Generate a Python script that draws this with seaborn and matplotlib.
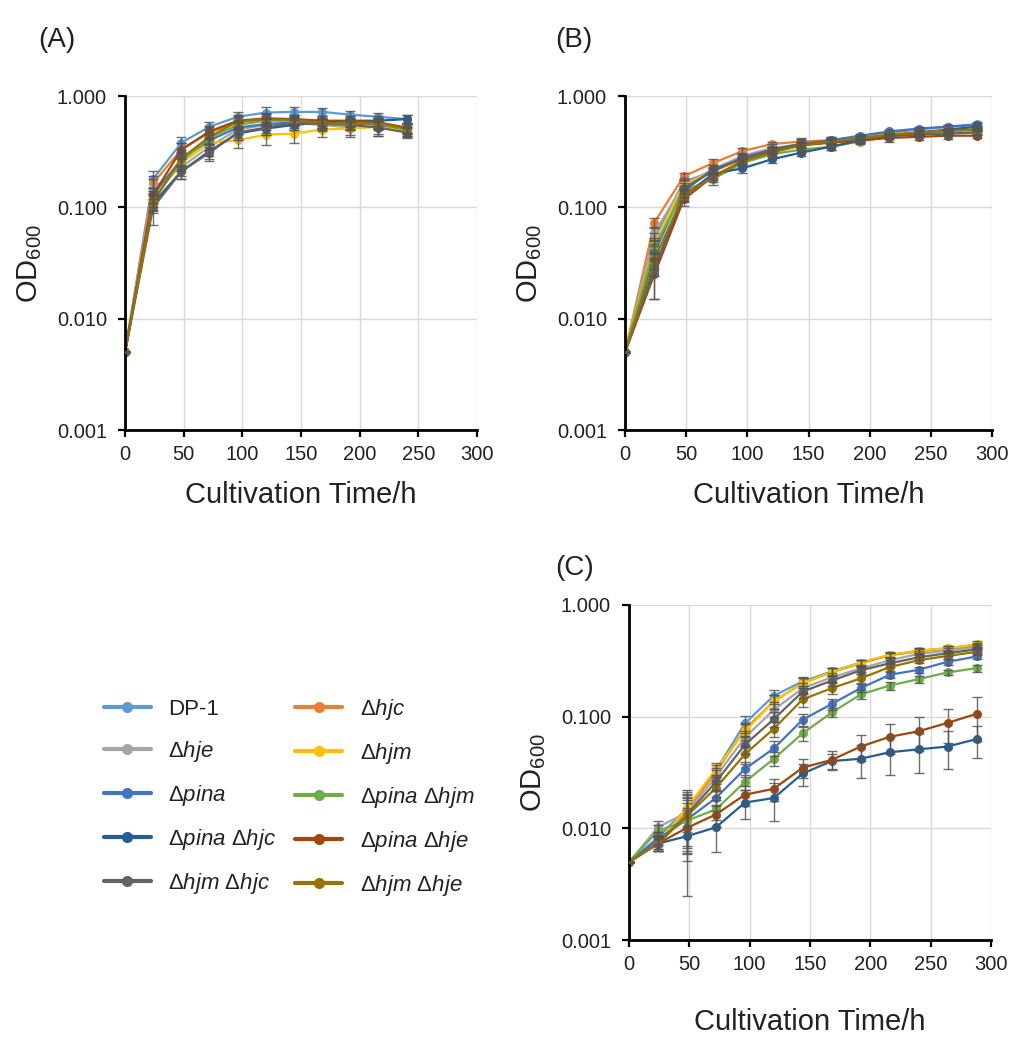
import numpy as np
import pandas as pd
import matplotlib
matplotlib.use("Agg")
import matplotlib.pyplot as plt
from matplotlib.lines import Line2D
import seaborn as sns

# ---- data ----
strains = ["DP-1", "hjc", "hje", "hjm", "pina", "pina_hjm", "pina_hjc", "pina_hje", "hjm_hjc", "hjm_hje"]
labels = {
    "DP-1": "DP-1",
    "hjc": "Δ$\\mathit{hjc}$",
    "hje": "Δ$\\mathit{hje}$",
    "hjm": "Δ$\\mathit{hjm}$",
    "pina": "Δ$\\mathit{pina}$",
    "pina_hjm": "Δ$\\mathit{pina}$ Δ$\\mathit{hjm}$",
    "pina_hjc": "Δ$\\mathit{pina}$ Δ$\\mathit{hjc}$",
    "pina_hje": "Δ$\\mathit{pina}$ Δ$\\mathit{hje}$",
    "hjm_hjc": "Δ$\\mathit{hjm}$ Δ$\\mathit{hjc}$",
    "hjm_hje": "Δ$\\mathit{hjm}$ Δ$\\mathit{hje}$",
}
colors = {
    "DP-1": "#5B9BD5", "hjc": "#ED7D31", "hje": "#A5A5A5", "hjm": "#FFC000",
    "pina": "#4472C4", "pina_hjm": "#70AD47", "pina_hjc": "#255E91",
    "pina_hje": "#9E480E", "hjm_hjc": "#636363", "hjm_hje": "#997300",
}

time_a = [0, 24, 48, 72, 96, 120, 144, 168, 192, 216, 240]
time_bc = [0, 24, 48, 72, 96, 120, 144, 168, 192, 216, 240, 264, 288]

od_a = {
    "DP-1":     [0.005, 0.180, 0.38, 0.53, 0.65, 0.71, 0.72, 0.72, 0.68, 0.65, 0.62],
    "hjc":      [0.005, 0.165, 0.33, 0.47, 0.58, 0.62, 0.61, 0.57, 0.58, 0.56, 0.52],
    "hje":      [0.005, 0.148, 0.23, 0.35, 0.50, 0.55, 0.57, 0.55, 0.52, 0.53, 0.50],
    "hjm":      [0.005, 0.120, 0.25, 0.38, 0.40, 0.45, 0.46, 0.50, 0.51, 0.53, 0.48],
    "pina":     [0.005, 0.130, 0.27, 0.40, 0.52, 0.56, 0.58, 0.60, 0.57, 0.55, 0.51],
    "pina_hjm": [0.005, 0.115, 0.26, 0.42, 0.55, 0.60, 0.60, 0.58, 0.56, 0.57, 0.49],
    "pina_hjc": [0.005, 0.109, 0.21, 0.32, 0.46, 0.51, 0.55, 0.58, 0.60, 0.60, 0.62],
    "pina_hje": [0.005, 0.129, 0.33, 0.48, 0.60, 0.63, 0.62, 0.60, 0.60, 0.58, 0.52],
    "hjm_hjc":  [0.005, 0.100, 0.21, 0.31, 0.47, 0.52, 0.57, 0.56, 0.55, 0.52, 0.47],
    "hjm_hje":  [0.005, 0.112, 0.275, 0.43, 0.59, 0.62, 0.61, 0.57, 0.56, 0.57, 0.51],
}
sd_a = {
    "DP-1":     [0, 0.030, 0.05, 0.06, 0.07, 0.08, 0.08, 0.06, 0.05, 0.05, 0.05],
    "hjc":      [0, 0.025, 0.05, 0.06, 0.07, 0.07, 0.06, 0.05, 0.05, 0.05, 0.05],
    "hje":      [0, 0.030, 0.04, 0.06, 0.08, 0.08, 0.08, 0.07, 0.07, 0.09, 0.06],
    "hjm":      [0, 0.020, 0.04, 0.05, 0.06, 0.09, 0.08, 0.07, 0.08, 0.09, 0.05],
    "pina":     [0, 0.020, 0.04, 0.05, 0.06, 0.06, 0.06, 0.06, 0.06, 0.06, 0.05],
    "pina_hjm": [0, 0.020, 0.04, 0.05, 0.06, 0.06, 0.06, 0.06, 0.06, 0.06, 0.05],
    "pina_hjc": [0, 0.020, 0.03, 0.05, 0.06, 0.06, 0.06, 0.06, 0.06, 0.06, 0.06],
    "pina_hje": [0, 0.020, 0.05, 0.06, 0.07, 0.07, 0.06, 0.06, 0.06, 0.06, 0.05],
    "hjm_hjc":  [0, 0.030, 0.03, 0.05, 0.07, 0.07, 0.07, 0.06, 0.06, 0.06, 0.05],
    "hjm_hje":  [0, 0.020, 0.04, 0.06, 0.07, 0.07, 0.06, 0.06, 0.06, 0.06, 0.05],
}

od_b = {
    "DP-1":     [0.005, 0.053, 0.170, 0.21, 0.28, 0.33, 0.37, 0.40, 0.43, 0.47, 0.50, 0.53, 0.56],
    "hjc":      [0.005, 0.073, 0.190, 0.25, 0.32, 0.37, 0.39, 0.40, 0.42, 0.45, 0.46, 0.47, 0.47],
    "hje":      [0.005, 0.059, 0.160, 0.22, 0.29, 0.34, 0.37, 0.39, 0.42, 0.45, 0.47, 0.49, 0.50],
    "hjm":      [0.005, 0.047, 0.160, 0.21, 0.27, 0.33, 0.37, 0.39, 0.42, 0.45, 0.47, 0.49, 0.51],
    "pina":     [0.005, 0.039, 0.150, 0.21, 0.28, 0.33, 0.37, 0.40, 0.44, 0.48, 0.51, 0.53, 0.55],
    "pina_hjm": [0.005, 0.044, 0.140, 0.18, 0.25, 0.30, 0.33, 0.35, 0.39, 0.43, 0.46, 0.48, 0.50],
    "pina_hjc": [0.005, 0.029, 0.126, 0.20, 0.224, 0.27, 0.31, 0.35, 0.40, 0.44, 0.47, 0.50, 0.53],
    "pina_hje": [0.005, 0.025, 0.118, 0.19, 0.26, 0.32, 0.36, 0.38, 0.40, 0.42, 0.43, 0.44, 0.44],
    "hjm_hjc":  [0.005, 0.027, 0.140, 0.22, 0.27, 0.33, 0.37, 0.39, 0.41, 0.44, 0.45, 0.46, 0.47],
    "hjm_hje":  [0.005, 0.034, 0.130, 0.185, 0.26, 0.31, 0.36, 0.39, 0.42, 0.45, 0.47, 0.49, 0.50],
}
sd_b = {
    "DP-1":     [0, 0.006, 0.015, 0.015, 0.02, 0.02, 0.02, 0.02, 0.02, 0.02, 0.02, 0.02, 0.02],
    "hjc":      [0, 0.008, 0.015, 0.020, 0.02, 0.02, 0.03, 0.03, 0.02, 0.02, 0.02, 0.02, 0.02],
    "hje":      [0, 0.008, 0.015, 0.020, 0.02, 0.03, 0.04, 0.04, 0.03, 0.02, 0.02, 0.02, 0.02],
    "hjm":      [0, 0.006, 0.015, 0.015, 0.02, 0.02, 0.02, 0.02, 0.02, 0.02, 0.02, 0.02, 0.02],
    "pina":     [0, 0.006, 0.015, 0.015, 0.02, 0.02, 0.02, 0.02, 0.02, 0.02, 0.02, 0.02, 0.02],
    "pina_hjm": [0, 0.006, 0.015, 0.020, 0.02, 0.02, 0.02, 0.02, 0.02, 0.02, 0.02, 0.02, 0.02],
    "pina_hjc": [0, 0.005, 0.015, 0.015, 0.02, 0.02, 0.02, 0.02, 0.02, 0.02, 0.02, 0.02, 0.02],
    "pina_hje": [0, 0.010, 0.015, 0.015, 0.02, 0.02, 0.02, 0.02, 0.02, 0.03, 0.03, 0.03, 0.02],
    "hjm_hjc":  [0, 0.012, 0.015, 0.020, 0.02, 0.02, 0.03, 0.03, 0.02, 0.02, 0.02, 0.02, 0.02],
    "hjm_hje":  [0, 0.006, 0.015, 0.015, 0.02, 0.02, 0.02, 0.02, 0.02, 0.02, 0.02, 0.02, 0.02],
}

od_c = {
    "DP-1":     [0.005, 0.0083, 0.0150, 0.0330, 0.087, 0.154, 0.207, 0.254, 0.305, 0.355, 0.385, 0.405, 0.430],
    "hjc":      [0.005, 0.0075, 0.0145, 0.0320, 0.077, 0.137, 0.200, 0.250, 0.300, 0.355, 0.390, 0.410, 0.440],
    "hje":      [0.005, 0.0102, 0.0139, 0.0290, 0.065, 0.115, 0.180, 0.225, 0.270, 0.320, 0.365, 0.390, 0.415],
    "hjm":      [0.005, 0.0073, 0.0153, 0.0337, 0.074, 0.137, 0.200, 0.250, 0.305, 0.358, 0.390, 0.410, 0.445],
    "pina":     [0.005, 0.0080, 0.0120, 0.0187, 0.034, 0.052, 0.094, 0.130, 0.180, 0.237, 0.263, 0.310, 0.346],
    "pina_hjm": [0.005, 0.0095, 0.0117, 0.0148, 0.026, 0.042, 0.071, 0.109, 0.158, 0.190, 0.217, 0.249, 0.272],
    "pina_hjc": [0.005, 0.0073, 0.0085, 0.0102, 0.017, 0.0187, 0.031, 0.040, 0.042, 0.048, 0.051, 0.054, 0.063],
    "pina_hje": [0.005, 0.0073, 0.0101, 0.0133, 0.020, 0.0226, 0.035, 0.041, 0.054, 0.066, 0.074, 0.088, 0.106],
    "hjm_hjc":  [0.005, 0.0073, 0.0133, 0.0260, 0.056, 0.095, 0.168, 0.210, 0.260, 0.300, 0.340, 0.370, 0.400],
    "hjm_hje":  [0.005, 0.0073, 0.0129, 0.0230, 0.046, 0.078, 0.143, 0.180, 0.220, 0.278, 0.320, 0.350, 0.380],
}
sd_c = {
    "DP-1":     [0, 0.0010, 0.0050, 0.004, 0.015, 0.020, 0.020, 0.020, 0.020, 0.020, 0.020, 0.020, 0.020],
    "hjc":      [0, 0.0010, 0.0040, 0.003, 0.010, 0.020, 0.020, 0.020, 0.020, 0.020, 0.020, 0.020, 0.020],
    "hje":      [0, 0.0015, 0.0080, 0.004, 0.010, 0.015, 0.020, 0.020, 0.020, 0.020, 0.020, 0.020, 0.020],
    "hjm":      [0, 0.0010, 0.0060, 0.005, 0.012, 0.020, 0.020, 0.020, 0.020, 0.020, 0.020, 0.020, 0.030],
    "pina":     [0, 0.0010, 0.0060, 0.003, 0.005, 0.008, 0.012, 0.015, 0.015, 0.015, 0.015, 0.020, 0.020],
    "pina_hjm": [0, 0.0012, 0.0050, 0.003, 0.004, 0.006, 0.010, 0.010, 0.015, 0.015, 0.015, 0.015, 0.020],
    "pina_hjc": [0, 0.0010, 0.0060, 0.004, 0.005, 0.007, 0.007, 0.006, 0.014, 0.018, 0.020, 0.020, 0.020],
    "pina_hje": [0, 0.0008, 0.0050, 0.003, 0.004, 0.005, 0.007, 0.008, 0.014, 0.020, 0.025, 0.030, 0.045],
    "hjm_hjc":  [0, 0.0010, 0.0070, 0.004, 0.010, 0.015, 0.020, 0.020, 0.020, 0.020, 0.020, 0.020, 0.020],
    "hjm_hje":  [0, 0.0010, 0.0060, 0.004, 0.008, 0.012, 0.020, 0.020, 0.020, 0.020, 0.020, 0.020, 0.020],
}

# ---- style ----
sns.set_theme(style="white")
plt.rcParams["font.family"] = ["Liberation Sans", "DejaVu Sans"]
plt.rcParams["mathtext.fontset"] = "custom"
plt.rcParams["mathtext.rm"] = "Liberation Sans"
plt.rcParams["mathtext.it"] = "Liberation Sans:italic"
plt.rcParams["mathtext.default"] = "regular"

W, H = 1009, 1041
fig = plt.figure(figsize=(W / 100, H / 100), dpi=100)


def px_rect(left, right, top, bottom):
    return [left / W, 1 - bottom / H, (right - left) / W, (bottom - top) / H]


def draw_panel(ax, times, od, sd, xlabelpad):
    rows = []
    for s in strains:
        for t, v in zip(times, od[s]):
            rows.append((s, t, v))
    df = pd.DataFrame(rows, columns=["strain", "time", "od"])
    for s in strains:
        ax.errorbar(times, od[s], yerr=sd[s], fmt="none", ecolor="#555555",
                    elinewidth=1.0, capsize=3.5, capthick=1.0, alpha=0.85, zorder=3)
    sns.lineplot(data=df, x="time", y="od", hue="strain", hue_order=strains,
                 palette=colors, marker="o", markersize=6.5, markeredgewidth=0,
                 linewidth=1.6, errorbar=None, legend=False, ax=ax, zorder=2)
    ax.set_yscale("log")
    ax.set_ylim(0.001, 1.0)
    ax.set_xlim(0, 300)
    ax.set_xticks(range(0, 301, 50))
    ax.set_yticks([0.001, 0.01, 0.1, 1.0])
    ax.set_yticklabels(["0.001", "0.010", "0.100", "1.000"])
    ax.yaxis.set_minor_locator(matplotlib.ticker.NullLocator())
    ax.grid(True, color="#d9d9d9", linewidth=1.0)
    ax.set_axisbelow(True)
    for side in ["top", "right"]:
        ax.spines[side].set_visible(False)
    for side in ["left", "bottom"]:
        ax.spines[side].set_color("black")
        ax.spines[side].set_linewidth(2.0)
    ax.tick_params(axis="both", which="major", labelsize=14.5, colors="black",
                   direction="out", length=5, width=1.6, left=True, bottom=True,
                   labelcolor="#222222")
    ax.tick_params(axis="y", pad=8)
    ax.tick_params(axis="x", pad=6)
    ax.set_xlabel("Cultivation Time/h", fontsize=21, labelpad=xlabelpad, color="#222222")
    ax.set_ylabel("OD$_{600}$", fontsize=21, labelpad=9, color="#222222")


ax_a = fig.add_axes(px_rect(125, 477, 96, 430))
ax_b = fig.add_axes(px_rect(625, 992, 96, 430))
ax_c = fig.add_axes(px_rect(629, 991, 605, 940))

draw_panel(ax_a, time_a, od_a, sd_a, 12)
draw_panel(ax_b, time_bc, od_b, sd_b, 12)
draw_panel(ax_c, time_bc, od_c, sd_c, 24)

for txt, x, y in [("(A)", 38, 40), ("(B)", 555, 40), ("(C)", 555, 568)]:
    fig.text(x / W, 1 - y / H, txt, fontsize=20, va="center", ha="left", color="#222222")

# legend, two columns as in the figure
order = ["DP-1", "hje", "pina", "pina_hjc", "hjm_hjc",
         "hjc", "hjm", "pina_hjm", "pina_hje", "hjm_hje"]
handles = [Line2D([0], [0], color=colors[s], lw=3, marker="o", markersize=8,
                  markeredgewidth=0) for s in order]
fig.legend(handles, [labels[s] for s in order], ncol=2, frameon=False,
           fontsize=16, handlelength=2.1, handletextpad=0.8, columnspacing=0.85,
           labelspacing=0.85, loc="upper left",
           bbox_to_anchor=(84 / W, 1 - 677 / H), labelcolor="#222222")

fig.savefig("out.png", dpi=100)
